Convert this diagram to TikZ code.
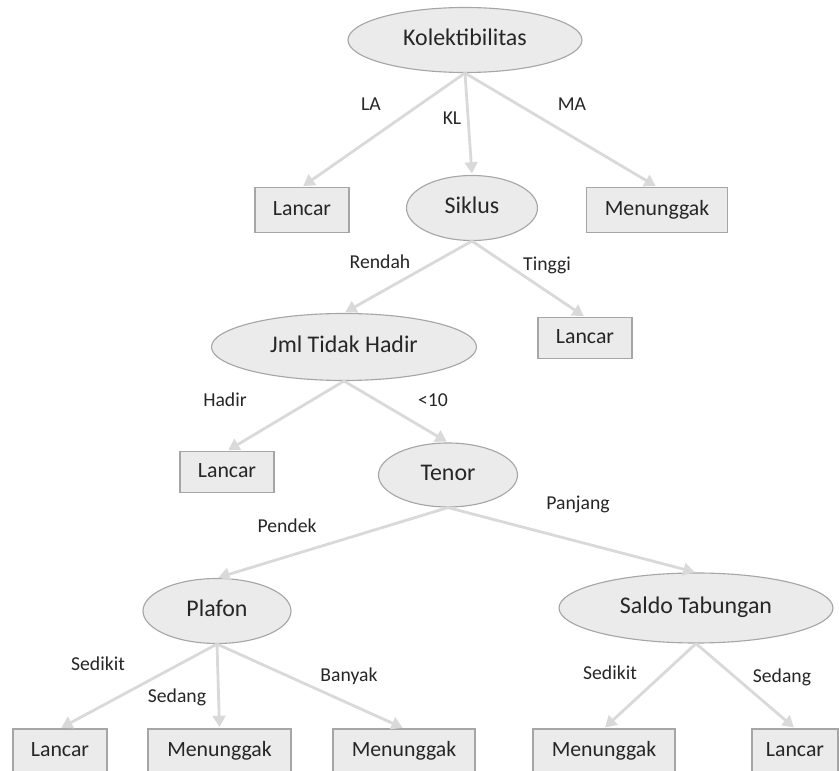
\documentclass[tikz,border=0pt]{standalone}
\usepackage{fontspec}
\setmainfont{Carlito}
\usepackage{xcolor}
\usepackage{tikz}
\usetikzlibrary{shapes.geometric,arrows.meta}

\definecolor{nodefill}{HTML}{EBEBEB}
\definecolor{nodeline}{HTML}{A6A6A6}
\definecolor{edgeline}{HTML}{D9D9D9}

\begin{document}
\begin{tikzpicture}[
  every node/.append style={text=black!85},
  attr/.style={ellipse, draw=nodeline, fill=nodefill, line width=0.8pt, inner sep=0pt,
    text height=1.6ex, text depth=0pt, font=\fontsize{17}{20}\selectfont},
  leaf/.style={rectangle, draw=nodeline, fill=nodefill, line width=0.8pt, inner sep=0pt,
    minimum height=1.125cm, text height=1.6ex, text depth=0pt, font=\fontsize{15.5}{18}\selectfont},
  edge/.style={-{Triangle[length=8pt,width=9pt]}, line width=2pt, draw=edgeline, shorten >=1pt},
  lbl/.style={inner sep=0pt, font=\fontsize{14}{17}\selectfont}
]
\useasboundingbox (0,0) rectangle (20.975,19.275);

\node[attr, minimum width=5.85cm, minimum height=1.625cm] (n11) at (11.625,18.275) {Kolektibilitas};
\node[leaf, minimum width=2.35cm] (n21) at (7.55,14.025) {Lancar};
\node[attr, minimum width=3.275cm, minimum height=1.625cm] (n22) at (11.8,14.075) {Siklus};
\node[leaf, minimum width=3.525cm] (n23) at (16.425,14.025) {Menunggak};
\node[attr, minimum width=6.625cm, minimum height=1.675cm] (n31) at (8.6,10.6) {Jml Tidak Hadir};
\node[leaf, minimum width=2.35cm, minimum height=1.025cm] (n32) at (14.625,10.825) {Lancar};
\node[leaf, minimum width=2.35cm, minimum height=1.025cm] (n41) at (5.675,7.475) {Lancar};
\node[attr, minimum width=3.475cm, minimum height=1.6cm] (n42) at (11.2,7.4) {Tenor};
\node[attr, minimum width=3.7cm, minimum height=1.625cm] (n51) at (5.425,4.0) {Plafon};
\node[attr, minimum width=6.85cm, minimum height=1.75cm] (n52) at (17.4,4.075) {Saldo Tabungan};
\node[leaf, minimum width=2.35cm] (n61) at (1.5,0.4875) {Lancar};
\node[leaf, minimum width=3.575cm] (n62) at (5.4875,0.4875) {Menunggak};
\node[leaf, minimum width=3.55cm] (n63) at (10.1,0.4875) {Menunggak};
\node[leaf, minimum width=3.55cm] (n64) at (15.1,0.4875) {Menunggak};
\node[leaf, minimum width=2.15cm] (n65) at (19.875,0.4875) {Lancar};

\node[lbl] (t21) at (9.275,16.675) {LA};
\node[lbl] (t22) at (11.3,16.325) {KL};
\node[lbl] (t23) at (14.3,16.675) {MA};
\node[lbl] (t31) at (9.5,12.725) {Rendah};
\node[lbl] (t32) at (13.675,12.65) {Tinggi};
\node[lbl] (t41) at (5.625,9.275) {Hadir};
\node[lbl] (t42) at (10.825,9.275) {<10};
\node[lbl] (t51) at (7.175,6.125) {Pendek};
\node[lbl] (t52) at (14.45,6.675) {Panjang};
\node[lbl] (t61) at (2.45,2.675) {Sedikit};
\node[lbl] (t62) at (4.425,1.85) {Sedang};
\node[lbl] (t63) at (8.725,2.375) {Banyak};
\node[lbl] (t64) at (15.25,2.45) {Sedikit};
\node[lbl] (t65) at (19.55,2.35) {Sedang};

\draw[edge] (n11.south) -- (n21.north);
\draw[edge] (n11.south) -- (n22.north);
\draw[edge] (n11.south) -- (n23.north);
\draw[edge] (n22.south) -- (n31.north);
\draw[edge] (n22.south) -- (n32.north);
\draw[edge] (n31.south) -- (n41.north);
\draw[edge] (n31.south) -- (n42.north);
\draw[edge] (n42.south) -- (n51.north);
\draw[edge] (n42.south) -- (n52.north);
\draw[edge] (n51.south) -- (n61.north);
\draw[edge] (n51.south) -- (n62.north);
\draw[edge] (n51.south) -- (n63.north);
\draw[edge] (n52.south) -- (n64.north);
\draw[edge] (n52.south) -- (n65.north);

\end{tikzpicture}
\end{document}
